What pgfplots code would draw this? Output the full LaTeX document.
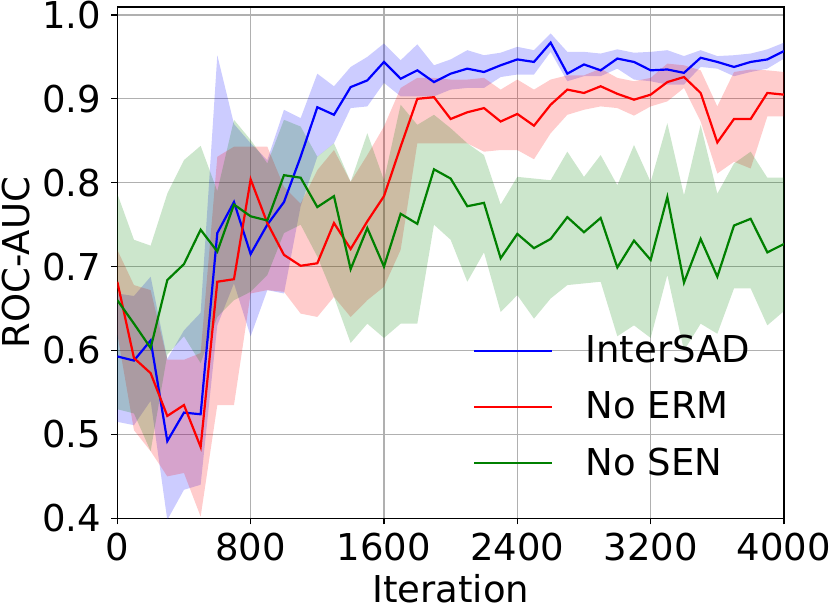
\documentclass[border=0pt]{standalone}
\usepackage{fontspec}
\setmainfont{DejaVu Sans}
\usepackage{pgfplots}
\usepackage{pgfplotstable}
\pgfplotsset{compat=1.18}
\usepgfplotslibrary{fillbetween}
\definecolor{mplgreen}{rgb}{0,0.5,0}
\pgfplotstableread{
x b bu bl r ru rl g gu gl
0 .593 .668 .515 .682 .720 .620 .660 .787 .530
100 .588 .665 .511 .591 .678 .505 .632 .732 .525
200 .612 .688 .540 .573 .672 .480 .603 .725 .480
300 .492 .590 .398 .522 .589 .450 .684 .787 .595
400 .526 .624 .434 .535 .589 .454 .703 .827 .617
500 .524 .645 .440 .485 .597 .402 .744 .844 .585
600 .740 .952 .630 .682 .831 .535 .718 .790 .640
700 .777 .870 .680 .685 .843 .535 .774 .875 .660
800 .715 .847 .617 .804 .843 .668 .760 .851 .670
900 .750 .827 .672 .752 .843 .672 .755 .823 .690
1000 .777 .887 .668 .714 .795 .670 .809 .875 .740
1100 .831 .877 .772 .701 .775 .644 .806 .867 .750
1200 .890 .930 .831 .704 .815 .640 .771 .831 .712
1300 .881 .915 .847 .752 .839 .664 .784 .847 .664
1400 .914 .938 .889 .721 .801 .640 .697 .801 .609
1500 .922 .950 .891 .754 .833 .660 .746 .859 .632
1600 .944 .966 .919 .784 .867 .676 .700 .803 .615
1700 .924 .946 .903 .843 .913 .720 .763 .893 .632
1800 .934 .965 .903 .900 .925 .847 .751 .869 .632
1900 .920 .940 .903 .902 .925 .847 .816 .881 .750
2000 .930 .947 .911 .876 .923 .847 .805 .865 .732
2100 .936 .958 .913 .884 .923 .847 .772 .847 .682
2200 .932 .952 .913 .889 .925 .837 .776 .833 .717
2300 .940 .955 .926 .873 .911 .839 .710 .774 .646
2400 .947 .962 .929 .882 .923 .839 .739 .807 .666
2500 .944 .958 .929 .868 .911 .828 .722 .805 .638
2600 .967 .978 .956 .893 .923 .859 .733 .803 .662
2700 .930 .956 .921 .911 .928 .881 .759 .837 .678
2800 .941 .956 .927 .907 .928 .887 .741 .807 .680
2900 .934 .954 .927 .915 .936 .891 .758 .833 .682
3000 .948 .959 .936 .906 .925 .889 .699 .797 .617
3100 .944 .955 .923 .899 .921 .880 .731 .845 .630
3200 .934 .956 .921 .905 .925 .891 .708 .801 .615
3300 .935 .958 .917 .920 .942 .897 .783 .871 .690
3400 .931 .951 .917 .926 .940 .913 .681 .785 .600
3500 .949 .958 .938 .907 .934 .873 .733 .869 .632
3600 .944 .951 .936 .848 .891 .811 .688 .787 .620
3700 .938 .952 .927 .876 .932 .825 .749 .823 .674
3800 .944 .954 .932 .876 .935 .817 .757 .837 .674
3900 .947 .959 .936 .907 .934 .879 .717 .806 .630
4000 .957 .967 .948 .905 .932 .879 .727 .806 .647
}\data
\begin{document}
\begin{tikzpicture}
\begin{axis}[
  name=ax,
  scale only axis,
  width=333.35bp, height=255.65bp,
  xmin=0, xmax=4000, ymin=0.4, ymax=1.0095,
  xtick={0,800,1600,2400,3200,4000},
  ytick={0.4,0.5,0.6,0.7,0.8,0.9,1.0},
  scaled x ticks=false, scaled y ticks=false,
  /pgf/number format/assume math mode=true,
  xticklabel style={/pgf/number format/1000 sep={}},
  yticklabel style={/pgf/number format/fixed, /pgf/number format/fixed zerofill, /pgf/number format/precision=1},
  tick label style={font=\fontsize{18.5bp}{22bp}\selectfont, inner sep=0pt},
  xticklabel style={anchor=north, yshift=-4.35bp},
  yticklabel style={anchor=east, xshift=-4.8bp},
  label style={font=\fontsize{18.5bp}{22bp}\selectfont, inner sep=0pt},
  xlabel={Iteration},
  ylabel={ROC-AUC},
  xlabel style={at={(axis description cs:0.5,-0.1095)}, anchor=north},
  ylabel style={at={(axis description cs:-0.131,0.5)}, anchor=south},
  tick align=outside,
  xtick pos=bottom, ytick pos=left,
  major tick length=3bp,
  tick style={black, line width=0.65bp},
  axis line style={black, line width=0.65bp},
  grid=major,
  grid style={color=black!31, line width=0.6bp},
  legend image code/.code={\draw[#1] (0bp,0bp) -- (39bp,0bp);},
  legend style={draw=none, fill=none, font=\fontsize{18.5bp}{22bp}\selectfont,
    at={(axis description cs:0.5335,0.218)}, anchor=west, inner sep=0pt,
    row sep=13bp, column sep=16bp, nodes={inner sep=0pt}},
  legend cell align=left,
]
\addplot[name path=bu, draw=none, forget plot] table[x=x, y=bu]{\data};
\addplot[name path=bl, draw=none, forget plot] table[x=x, y=bl]{\data};
\addplot[fill=blue, fill opacity=0.2, draw=none, forget plot] fill between[of=bu and bl];
\addplot[name path=ru, draw=none, forget plot] table[x=x, y=ru]{\data};
\addplot[name path=rl, draw=none, forget plot] table[x=x, y=rl]{\data};
\addplot[fill=red, fill opacity=0.2, draw=none, forget plot] fill between[of=ru and rl];
\addplot[name path=gu, draw=none, forget plot] table[x=x, y=gu]{\data};
\addplot[name path=gl, draw=none, forget plot] table[x=x, y=gl]{\data};
\addplot[fill=mplgreen, fill opacity=0.2, draw=none, forget plot] fill between[of=gu and gl];
\addplot[blue, line width=1.1bp, mark=none] table[x=x, y=b]{\data};
\addlegendentry{InterSAD}
\addplot[red, line width=1.1bp, mark=none] table[x=x, y=r]{\data};
\addlegendentry{No ERM}
\addplot[mplgreen, line width=1.1bp, mark=none] table[x=x, y=g]{\data};
\addlegendentry{No SEN}
\end{axis}
\pgfresetboundingbox
\path[use as bounding box] ([shift={(-58.65bp,-43.85bp)}]ax.south west) rectangle ([shift={(356.35bp,259.15bp)}]ax.south west);
\end{tikzpicture}
\end{document}
